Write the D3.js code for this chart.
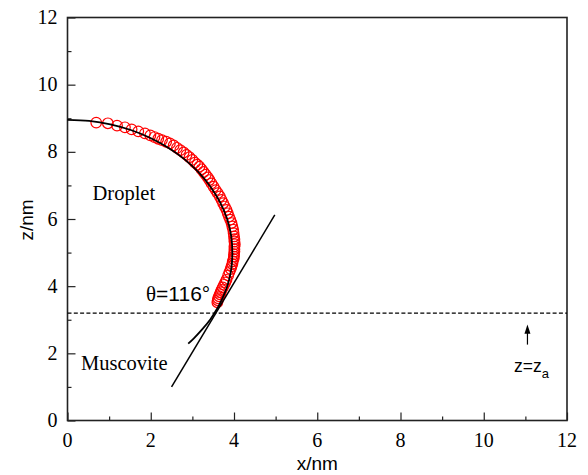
<!DOCTYPE html>
<html>
<head>
<meta charset="utf-8">
<script src="https://cdn.jsdelivr.net/npm/d3@7"></script>
<style>
  body { margin: 0; background: #fff; }
  svg { display: block; }
</style>
</head>
<body>
<div id="chart"></div>
<script>
// simulated droplet profile (red circles)
var dataX = [0.69, 0.97, 1.19, 1.38, 1.54, 1.70, 1.86, 1.99, 2.09, 2.18, 2.27, 2.37, 2.46, 2.55, 2.63, 2.71,
  2.79, 2.86, 2.93, 3.00, 3.06, 3.12, 3.17, 3.22, 3.27, 3.32, 3.37, 3.41, 3.46, 3.51, 3.56, 3.61, 3.66,
  3.70, 3.74, 3.78, 3.82, 3.85, 3.88, 3.91, 3.94, 3.96, 3.98, 3.99, 4.00, 4.01, 4.01, 4.02, 4.01, 4.01,
  4.01, 4.00, 4.00, 3.99, 3.97, 3.96, 3.94, 3.92, 3.89, 3.86, 3.82, 3.79, 3.76, 3.73, 3.70, 3.68, 3.66,
  3.64, 3.62, 3.61, 3.60];
var dataZ = [8.87, 8.85, 8.78, 8.73, 8.67, 8.61, 8.55, 8.49, 8.44, 8.39, 8.35, 8.30, 8.25, 8.19, 8.12, 8.05,
  7.98, 7.91, 7.84, 7.76, 7.68, 7.62, 7.56, 7.48, 7.40, 7.32, 7.24, 7.16, 7.06, 6.96, 6.86, 6.77, 6.67,
  6.57, 6.47, 6.37, 6.27, 6.17, 6.07, 5.98, 5.88, 5.78, 5.68, 5.58, 5.48, 5.40, 5.33, 5.25, 5.18, 5.10,
  5.03, 4.95, 4.88, 4.81, 4.74, 4.66, 4.59, 4.51, 4.42, 4.32, 4.19, 4.11, 4.04, 3.96, 3.89, 3.82, 3.76,
  3.70, 3.64, 3.58, 3.52];

// circular fit (black line)
var fitX = [0, 0.52, 1.03, 1.52, 1.98, 2.41, 2.80, 3.14, 3.43, 3.66, 3.83, 3.93, 3.96, 3.93, 3.83, 3.66, 3.59, 3.43, 3.24, 3.03, 2.90];
var fitZ = [8.95, 8.92, 8.82, 8.65, 8.42, 8.13, 7.79, 7.40, 6.97, 6.51, 6.02, 5.51, 4.99, 4.47, 3.97, 3.48, 3.32, 3.01, 2.72, 2.44, 2.29];

// tangent at the contact point
var tangentX = [2.50, 4.98];
var tangentZ = [1.00, 6.12];

// interface z = z_a
var interfaceZ = 3.2;

var xTicks = [0, 2, 4, 6, 8, 10, 12];
var yTicks = [0, 2, 4, 6, 8, 10, 12];

var width = 588, height = 475;
var margin = {left: 67.5, right: 21, top: 17.5, bottom: 54.5};

var svg = d3.select("#chart").append("svg")
    .attr("width", width)
    .attr("height", height);

var x = d3.scaleLinear().domain([0, 12]).range([margin.left, width - margin.right]);
var y = d3.scaleLinear().domain([0, 12]).range([height - margin.bottom, margin.top]);

var serif = "'Liberation Serif', 'Times New Roman', serif";
var sans = "'Liberation Sans', Arial, sans-serif";

// minor ticks
svg.append("g")
    .attr("transform", "translate(0," + y(0) + ")")
    .call(d3.axisBottom(x).tickValues(d3.range(1, 12, 2)).tickSize(-4).tickFormat(""))
    .call(function(g) { g.select(".domain").remove(); });
svg.append("g")
    .attr("transform", "translate(" + x(0) + ",0)")
    .call(d3.axisLeft(y).tickValues(d3.range(1, 12, 2)).tickSize(-4).tickFormat(""))
    .call(function(g) { g.select(".domain").remove(); });

// major ticks
svg.append("g")
    .attr("transform", "translate(0," + y(0) + ")")
    .call(d3.axisBottom(x).tickValues(xTicks).tickSize(-8).tickFormat(""))
    .call(function(g) { g.select(".domain").remove(); });
svg.append("g")
    .attr("transform", "translate(" + x(0) + ",0)")
    .call(d3.axisLeft(y).tickValues(yTicks).tickSize(-8).tickFormat(""))
    .call(function(g) { g.select(".domain").remove(); });

svg.selectAll(".tick line").attr("stroke", "#222").attr("stroke-width", 1.2);

// tick labels
svg.append("g").selectAll("text")
    .data(xTicks)
    .enter().append("text")
    .attr("x", function(d) { return x(d); })
    .attr("y", y(0) + 26)
    .attr("text-anchor", "middle")
    .style("font-family", serif).style("font-size", "20px")
    .text(function(d) { return d; });

svg.append("g").selectAll("text")
    .data(yTicks)
    .enter().append("text")
    .attr("x", x(0) - 10)
    .attr("y", function(d) { return y(d) + 6.5; })
    .attr("text-anchor", "end")
    .style("font-family", serif).style("font-size", "20px")
    .text(function(d) { return d; });

// frame
svg.append("rect")
    .attr("x", x(0)).attr("y", y(12))
    .attr("width", x(12) - x(0)).attr("height", y(0) - y(12))
    .attr("fill", "none").attr("stroke", "#222").attr("stroke-width", 1.6);

// interface dashed line
svg.append("line")
    .attr("x1", x(0)).attr("x2", x(12))
    .attr("y1", y(interfaceZ)).attr("y2", y(interfaceZ))
    .attr("stroke", "#000").attr("stroke-width", 1.3)
    .attr("stroke-dasharray", "4,2.3");

// data circles
svg.append("g").selectAll("circle")
    .data(dataX.map(function(d, i) { return [d, dataZ[i]]; }))
    .enter().append("circle")
    .attr("cx", function(d) { return x(d[0]); })
    .attr("cy", function(d) { return y(d[1]); })
    .attr("r", 5.3)
    .attr("fill", "none")
    .attr("stroke", "#ff0000")
    .attr("stroke-width", 1.2);

// fit line
var line = d3.line()
    .x(function(d) { return x(d[0]); })
    .y(function(d) { return y(d[1]); })
    .curve(d3.curveCatmullRom);

svg.append("path")
    .datum(fitX.map(function(d, i) { return [d, fitZ[i]]; }))
    .attr("d", line)
    .attr("fill", "none").attr("stroke", "#000").attr("stroke-width", 1.8);

// tangent
svg.append("path")
    .datum(tangentX.map(function(d, i) { return [d, tangentZ[i]]; }))
    .attr("d", d3.line().x(function(d) { return x(d[0]); }).y(function(d) { return y(d[1]); }))
    .attr("fill", "none").attr("stroke", "#000").attr("stroke-width", 1.5);

// arrow for z = z_a
svg.append("line")
    .attr("x1", x(11.05)).attr("x2", x(11.05))
    .attr("y1", y(2.26)).attr("y2", y(2.62))
    .attr("stroke", "#000").attr("stroke-width", 1.2);
svg.append("path")
    .attr("d", "M" + (x(11.05) - 3) + "," + y(2.58) + " L" + x(11.05) + "," + y(2.86) +
        " L" + (x(11.05) + 3) + "," + y(2.58) + " Z")
    .attr("fill", "#000");

// labels
svg.append("text").attr("x", 92.5).attr("y", 200)
    .style("font-family", serif).style("font-size", "20.5px").text("Droplet");
svg.append("text").attr("x", 81).attr("y", 370)
    .style("font-family", serif).style("font-size", "20.5px").text("Muscovite");

var theta = svg.append("text").attr("x", 146).attr("y", 301)
    .style("font-family", sans).style("font-size", "21px");
theta.append("tspan").style("font-family", serif).text("\u03b8");
theta.append("tspan").text("=116\u00b0");

var za = svg.append("text").attr("x", 514).attr("y", 372)
    .style("font-family", sans).style("font-size", "17.5px");
za.append("tspan").text("z=z");
za.append("tspan").attr("dy", 6).style("font-size", "13px").text("a");

svg.append("text")
    .attr("x", x(6)).attr("y", 470)
    .attr("text-anchor", "middle")
    .style("font-family", sans).style("font-size", "19px")
    .text("x/nm");

svg.append("text")
    .attr("transform", "translate(33," + 220 + ") rotate(-90)")
    .attr("text-anchor", "middle")
    .style("font-family", sans).style("font-size", "19px")
    .text("z/nm");
</script>
</body>
</html>
